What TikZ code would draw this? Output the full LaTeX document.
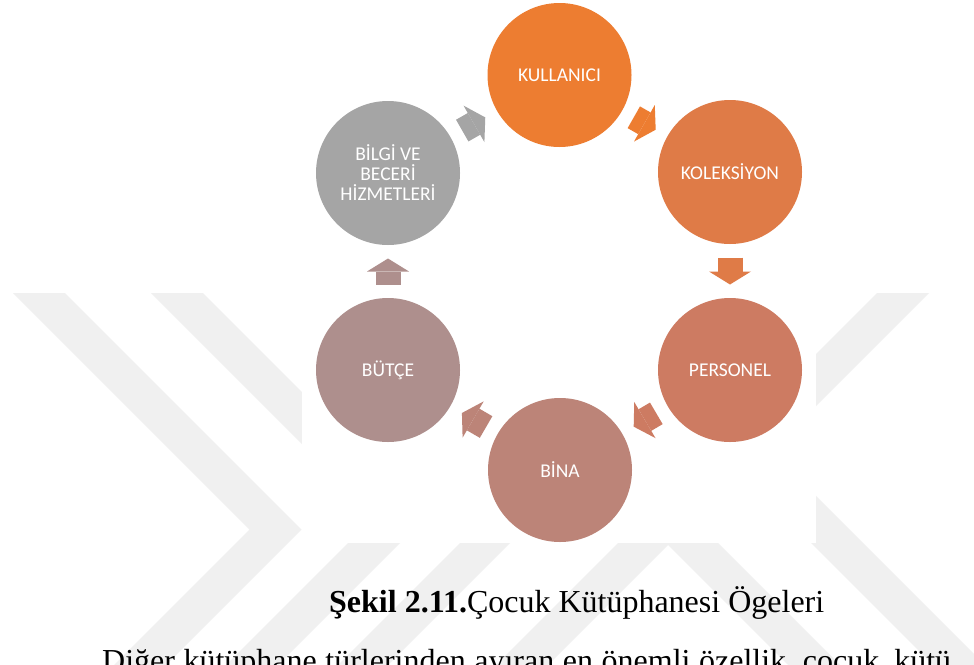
\documentclass[tikz,border=0pt]{standalone}
\usepackage{fontspec}
\setmainfont{Liberation Serif}
\newfontfamily\diagfont{Carlito}
\usetikzlibrary{arrows.meta}
\definecolor{cKul}{HTML}{ED7D31}
\definecolor{cKol}{HTML}{DF7B47}
\definecolor{cPer}{HTML}{CD7B62}
\definecolor{cBin}{HTML}{BC8478}
\definecolor{cBut}{HTML}{AE8F8D}
\definecolor{cBil}{HTML}{A5A5A5}
\definecolor{wmgrey}{HTML}{F0F0F0}
\begin{document}
\begin{tikzpicture}[x=1pt,y=-1pt,
  stripe/.style={fill=wmgrey, draw=none},
  elem/.style={circle, minimum size=144pt, inner sep=0pt, outer sep=0pt, text=white,
    font=\diagfont\fontsize{19.5}{20}\selectfont, align=center},
  blockarrow/.style={line width=25pt, -{Triangle[length=13pt,width=42pt,line width=0pt]},
    shorten <=13.5pt, shorten >=13.5pt},
  textline/.style={anchor=base west, inner sep=0pt, font=\fontsize{32}{38}\selectfont}]
\useasboundingbox (0,0) rectangle (974,664);
\clip (0,0) rectangle (974,664);
\fill[white] (0,0) rectangle (974,664);
% watermark stripes
\fill[stripe] (13,293) -- (65,293) -- (301.5,529.5) -- (131,700) -- (79,700) -- (249.5,529.5) -- cycle;
\fill[stripe] (151,293) -- (203,293) -- (426.5,516.5) -- (243,700) -- (191,700) -- (374.5,516.5) -- cycle;
\fill[stripe] (503,500) -- (553,500) -- (353,700) -- (303,700) -- cycle;
\fill[stripe] (668,493) -- (875,700) -- (823,700) -- (668,545) -- (513,700) -- (461,700) -- cycle;
\fill[stripe] (877,293) -- (929,293) -- (771,451) -- (1020,700) -- (968,700) -- (719,451) -- cycle;
% diagram panel
\fill[white] (302,0) rectangle (816,543);
% elements
\node[elem, fill=cKul] (kul) at (559.5,75) {KULLANICI};
\node[elem, fill=cKol] (kol) at (730,172) {KOLEKSİYON};
\node[elem, fill=cPer] (per) at (730,370) {PERSONEL};
\node[elem, fill=cBin] (bin) at (560,470) {BİNA};
\node[elem, fill=cBut] (but) at (388,370) {BÜTÇE};
\node[elem, fill=cBil] (bil) at (388,173) {BİLGİ VE\\BECERİ\\HİZMETLERİ};
% block arrows
\draw[blockarrow, draw=cBil] (bil) -- (kul);
\draw[blockarrow, draw=cKul] (kul) -- (kol);
\draw[blockarrow, draw=cKol] (kol) -- (per);
\draw[blockarrow, draw=cPer] (per) -- (bin);
\draw[blockarrow, draw=cBin] (bin) -- (but);
\draw[blockarrow, draw=cBut] (but) -- (bil);
% caption and body text
\node[textline] (cap) at (329,612) {\textbf{Şekil 2.11.}Çocuk Kütüphanesi Ögeleri};
\node[textline] (body) at (102,671) {\makebox[777pt][s]{Diğer kütüphane türlerinden ayıran en önemli özellik, çocuk}\hspace{15pt}kütü};
\end{tikzpicture}
\end{document}
